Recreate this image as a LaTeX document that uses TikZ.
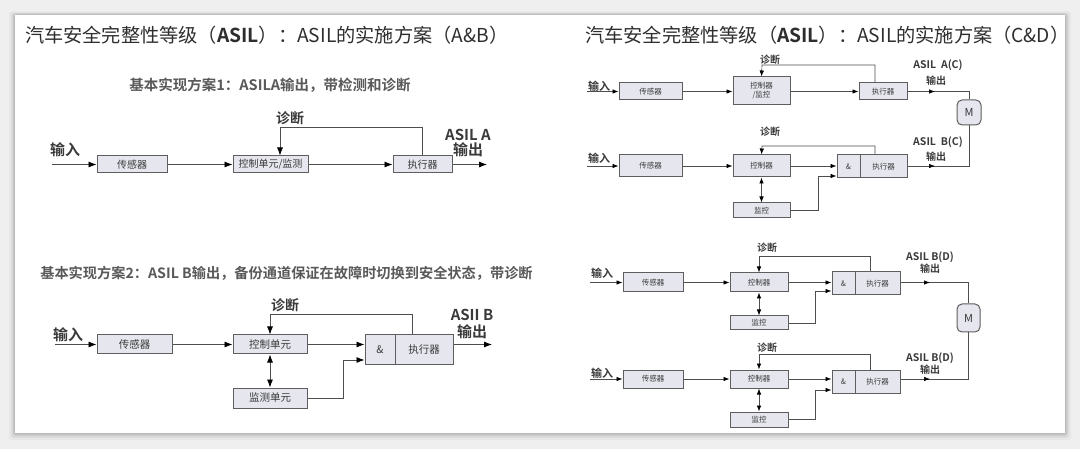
\documentclass[tikz,border=0pt]{standalone}
\usepackage{fontspec}
\setmainfont{Noto Sans CJK SC}
\newfontfamily\cjkb{Noto Sans CJK SC Bold}
\usetikzlibrary{arrows.meta}
\definecolor{bg}{HTML}{EFEFEF}
\definecolor{boxfill}{HTML}{E5E6EE}
\definecolor{boxdraw}{HTML}{5E5E5E}
\definecolor{ln}{HTML}{4E4E4E}
\definecolor{txt}{HTML}{3A3A3A}
\tikzset{
  blk/.style={draw=boxdraw, fill=boxfill, line width=1pt, inner sep=0pt, text=txt, align=center},
  conn/.style={draw=ln, line width=0.8pt},
  arr/.style={conn, -{Latex[length=8pt,width=6pt,color=black]}},
  darr/.style={conn, {Latex[length=8pt,width=6pt,color=black]}-{Latex[length=8pt,width=6pt,color=black]}},
  sarr/.style={conn, line width=0.65pt, -{Latex[length=6pt,width=4.5pt,color=black]}},
  dsarr/.style={conn, line width=0.65pt, {Latex[length=6pt,width=4.5pt,color=black]}-{Latex[length=6pt,width=4.5pt,color=black]}},
  lbl/.style={text=txt, inner sep=0pt},
  mot/.style={draw=boxdraw, fill=boxfill, line width=1pt, rounded corners=5pt, inner sep=0pt, text=txt},
}
\begin{document}
\begin{tikzpicture}[x=1pt,y=-1pt]
\useasboundingbox (0,0) rectangle (1080,449);
\fill[bg] (0,0) rectangle (1080,449);
\foreach \d/\o in {6/0.03,4/0.05,2.5/0.07,1.2/0.09}{
  \fill[black,opacity=\o,rounded corners=3pt] (15-\d,15-\d*0.6) rectangle (1065+\d,433+\d*1.2);
}
\fill[white] (15,15) rectangle (1065,433);

% ---------- titles ----------
\node[lbl, anchor=west, font=\fontsize{19.2}{22}\selectfont, text=black!82] (t1) at (25,35)
  {汽车安全完整性等级（{\cjkb ASIL}）：ASIL的实施方案（A\&B）};
\node[lbl, anchor=west, font=\fontsize{19.2}{22}\selectfont, text=black!82] (t2) at (585,35)
  {汽车安全完整性等级（{\cjkb ASIL}）：ASIL的实施方案（C\&D）};

% ---------- left diagram 1 ----------
\node[lbl, font=\cjkb\fontsize{14.5}{16}\selectfont, text=black!65] (st1) at (270,85) {基本实现方案1：ASILA输出，带检测和诊断};
\node[blk, minimum width=70, minimum height=17, font=\fontsize{10}{12}\selectfont] (s1) at (132,164.5) {传感器};
\node[blk, minimum width=75, minimum height=17, font=\fontsize{10}{12}\selectfont] (c1) at (270.5,164.5) {控制单元/监测};
\node[blk, minimum width=59, minimum height=17, font=\fontsize{10}{12}\selectfont] (e1) at (422.5,164.5) {执行器};
\coordinate (in1) at (52,164.5);
\coordinate (out1) at (487,164.5);
\coordinate (fb1) at (280,127);
\draw[arr] (in1) -- (s1);
\draw[arr] (s1) -- (c1);
\draw[arr] (c1) -- (e1);
\draw[arr] (e1) -- (out1);
\draw[arr] (e1.north) |- (fb1) -- (fb1 |- c1.north);
\node[lbl, font=\cjkb\fontsize{14}{16}\selectfont] (dg1) at (290,118) {诊断};
\node[lbl, font=\cjkb\fontsize{15}{17}\selectfont] (ir1) at (65,150) {输入};
\node[lbl, font=\cjkb\fontsize{15}{17}\selectfont] (oa1) at (468,135) {ASIL A};
\node[lbl, font=\cjkb\fontsize{15}{17}\selectfont] (ob1) at (468,150) {输出};

% ---------- left diagram 2 ----------
\node[lbl, font=\cjkb\fontsize{14.2}{16}\selectfont, text=black!65] (st2) at (286.5,273) {基本实现方案2：ASIL B输出，备份通道保证在故障时切换到安全状态，带诊断};
\node[blk, minimum width=75, minimum height=19, font=\fontsize{10.5}{12}\selectfont] (s2) at (134.5,344.5) {传感器};
\node[blk, minimum width=74, minimum height=19, font=\fontsize{10.5}{12}\selectfont] (c2) at (270,344.5) {控制单元};
\node[blk, minimum width=74, minimum height=20, font=\fontsize{10.5}{12}\selectfont] (m2) at (270,398) {监测单元};
\node[blk, minimum width=30, minimum height=29, font=\fontsize{10.5}{12}\selectfont] (a2) at (380,349.5) {\&};
\node[blk, minimum width=58, minimum height=29, font=\fontsize{10.5}{12}\selectfont] (e2) at (424,349.5) {执行器};
\coordinate (in2) at (55,344.5);
\coordinate (out2) at (492,344.5);
\coordinate (fb2) at (270,314);
\coordinate (mj2) at (343,360);
\draw[arr] (in2) -- (s2);
\draw[arr] (s2) -- (c2);
\draw[arr] (c2.east) -- (c2.east -| a2.west);
\draw[arr] (m2.east) -| (mj2) -- (mj2 -| a2.west);
\draw[darr] (c2.south) -- (m2.north);
\draw[arr] (e2.north -| 412,0) |- (fb2) -- (c2.north);
\draw[arr] (out2 -| e2.east) -- (out2);
\node[lbl, font=\cjkb\fontsize{14}{16}\selectfont] (dg2) at (285,305) {诊断};
\node[lbl, font=\cjkb\fontsize{15}{17}\selectfont] (ir2) at (68,335) {输入};
\node[lbl, font=\cjkb\fontsize{15}{17}\selectfont] (oa2) at (472,315) {ASII B};
\node[lbl, font=\cjkb\fontsize{15}{17}\selectfont] (ob2) at (472,332) {输出};

% ---------- right C upper ----------
\node[blk, minimum width=63, minimum height=17, font=\fontsize{7.5}{9}\selectfont] (s3) at (650.5,91.5) {传感器};
\node[blk, minimum width=57, minimum height=28, font=\fontsize{7.5}{9}\selectfont] (c3) at (761.5,91) {控制器\\/监控};
\node[blk, minimum width=48, minimum height=17, font=\fontsize{7.5}{9}\selectfont] (e3) at (883,91.5) {执行器};
\node[mot, minimum width=24, minimum height=25, font=\fontsize{11}{12}\selectfont] (M1) at (969,112.5) {M};
\coordinate (in3) at (587,91.5);
\coordinate (fb3) at (762,65);
\coordinate (oc3) at (969,91.5);
\draw[sarr] (in3) -- (s3);
\draw[sarr] (s3) -- (c3.west |- s3);
\draw[sarr] (c3.east |- e3) -- (e3);
\draw[conn, line width=0.65pt] (e3.east) -- (oc3) -- (M1.north);
\draw[sarr] (e3.east) -- (935,91.5);
\draw[sarr] (e3.north -| 875,0) |- (fb3) -- (c3.north);
\node[lbl, font=\cjkb\fontsize{10}{12}\selectfont] (dg3) at (770,60) {诊断};
\node[lbl, font=\cjkb\fontsize{11}{12}\selectfont] (ir3) at (599,86) {输入};
\node[lbl, font=\cjkb\fontsize{10.5}{12}\selectfont] (oa3) at (938,65) {ASIL\ \ A(C)};
\node[lbl, font=\cjkb\fontsize{10}{12}\selectfont] (ob3) at (936,81) {输出};

% ---------- right C lower ----------
\node[blk, minimum width=63, minimum height=22, font=\fontsize{7.5}{9}\selectfont] (s4) at (650.5,166) {传感器};
\node[blk, minimum width=57, minimum height=22, font=\fontsize{7.5}{9}\selectfont] (c4) at (761.5,166) {控制器};
\node[blk, minimum width=57, minimum height=15, font=\fontsize{7.5}{9}\selectfont] (m4) at (761.5,210.5) {监控};
\node[blk, minimum width=23, minimum height=23, font=\fontsize{7.5}{9}\selectfont] (a4) at (848.5,166.5) {\&};
\node[blk, minimum width=47, minimum height=23, font=\fontsize{7.5}{9}\selectfont] (e4) at (883.5,166.5) {执行器};
\coordinate (in4) at (587,166);
\coordinate (fb4) at (762,146);
\coordinate (mj4) at (818,176);
\coordinate (oc4) at (969,166);
\draw[sarr] (in4) -- (s4);
\draw[sarr] (s4) -- (c4);
\draw[sarr] (c4.east) -- (c4.east -| a4.west);
\draw[sarr] (m4.east) -| (mj4) -- (mj4 -| a4.west);
\draw[dsarr] (c4.south) -- (m4.north);
\draw[sarr] (e4.north -| 875,0) |- (fb4) -- (c4.north);
\draw[conn, line width=0.65pt] (oc4 -| e4.east) -- (oc4) -- (M1.south);
\draw[sarr] (oc4 -| e4.east) -- (935,166);
\node[lbl, font=\cjkb\fontsize{10}{12}\selectfont] (dg4) at (770,132) {诊断};
\node[lbl, font=\cjkb\fontsize{11}{12}\selectfont] (ir4) at (599,158) {输入};
\node[lbl, font=\cjkb\fontsize{10.5}{12}\selectfont] (oa4) at (938,142) {ASIL\ \ B(C)};
\node[lbl, font=\cjkb\fontsize{10}{12}\selectfont] (ob4) at (936,157) {输出};

% ---------- right D upper ----------
\node[blk, minimum width=60, minimum height=19, font=\fontsize{7.5}{9}\selectfont] (s5) at (653,282.5) {传感器};
\node[blk, minimum width=58, minimum height=19, font=\fontsize{7.5}{9}\selectfont] (c5) at (759,282.5) {控制器};
\node[blk, minimum width=58, minimum height=14, font=\fontsize{7.5}{9}\selectfont] (m5) at (759,323) {监控};
\node[blk, minimum width=23, minimum height=23, font=\fontsize{7.5}{9}\selectfont] (a5) at (843.5,283.5) {\&};
\node[blk, minimum width=45, minimum height=23, font=\fontsize{7.5}{9}\selectfont] (e5) at (877.5,283.5) {执行器};
\node[mot, minimum width=23, minimum height=28, font=\fontsize{11}{12}\selectfont] (M2) at (968.5,318) {M};
\coordinate (in5) at (590,282.5);
\coordinate (fb5) at (759,256);
\coordinate (mj5) at (815,291);
\coordinate (oc5) at (968.5,282.5);
\draw[sarr] (in5) -- (s5);
\draw[sarr] (s5) -- (c5);
\draw[sarr] (c5.east) -- (c5.east -| a5.west);
\draw[sarr] (m5.east) -| (mj5) -- (mj5 -| a5.west);
\draw[dsarr] (c5.south) -- (m5.north);
\draw[sarr] (e5.north -| 870,0) |- (fb5) -- (c5.north);
\draw[conn, line width=0.65pt] (oc5 -| e5.east) -- (oc5) -- (M2.north);
\draw[sarr] (oc5 -| e5.east) -- (930,282.5);
\node[lbl, font=\cjkb\fontsize{10}{12}\selectfont] (dg5) at (767,248) {诊断};
\node[lbl, font=\cjkb\fontsize{11}{12}\selectfont] (ir5) at (602,273) {输入};
\node[lbl, font=\cjkb\fontsize{10.5}{12}\selectfont] (oa5) at (930,257) {ASIL B(D)};
\node[lbl, font=\cjkb\fontsize{10}{12}\selectfont] (ob5) at (930,269) {输出};

% ---------- right D lower ----------
\node[blk, minimum width=60, minimum height=18, font=\fontsize{7.5}{9}\selectfont] (s6) at (653,379) {传感器};
\node[blk, minimum width=58, minimum height=18, font=\fontsize{7.5}{9}\selectfont] (c6) at (759,379) {控制器};
\node[blk, minimum width=58, minimum height=15, font=\fontsize{7.5}{9}\selectfont] (m6) at (759,419.5) {监控};
\node[blk, minimum width=23, minimum height=23, font=\fontsize{7.5}{9}\selectfont] (a6) at (843.5,381.5) {\&};
\node[blk, minimum width=45, minimum height=23, font=\fontsize{7.5}{9}\selectfont] (e6) at (877.5,381.5) {执行器};
\coordinate (in6) at (590,379);
\coordinate (fb6) at (759,354);
\coordinate (mj6) at (815,390);
\coordinate (oc6) at (968.5,379);
\draw[sarr] (in6) -- (s6);
\draw[sarr] (s6) -- (c6);
\draw[sarr] (c6.east) -- (c6.east -| a6.west);
\draw[sarr] (m6.east) -| (mj6) -- (mj6 -| a6.west);
\draw[dsarr] (c6.south) -- (m6.north);
\draw[sarr] (e6.north -| 870,0) |- (fb6) -- (c6.north);
\draw[conn, line width=0.65pt] (oc6 -| e6.east) -- (oc6) -- (M2.south);
\draw[sarr] (oc6 -| e6.east) -- (930,379);
\node[lbl, font=\cjkb\fontsize{10}{12}\selectfont] (dg6) at (767,348) {诊断};
\node[lbl, font=\cjkb\fontsize{11}{12}\selectfont] (ir6) at (602,373) {输入};
\node[lbl, font=\cjkb\fontsize{10.5}{12}\selectfont] (oa6) at (930,358) {ASIL B(D)};
\node[lbl, font=\cjkb\fontsize{10}{12}\selectfont] (ob6) at (930,370) {输出};
\end{tikzpicture}
\end{document}
